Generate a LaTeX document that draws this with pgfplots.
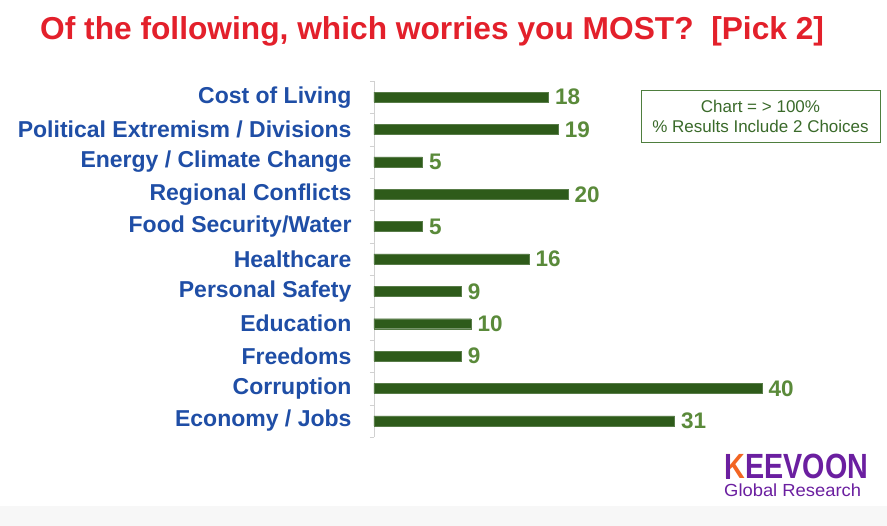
\documentclass[border=0pt]{standalone}
\usepackage{pgfplots}
\pgfplotsset{compat=1.18}
\usepackage{fontspec}
\setmainfont{Liberation Sans}
\definecolor{titlered}{HTML}{E3202B}
\definecolor{catblue}{HTML}{1F4EA6}
\definecolor{bargreen}{HTML}{2E5B1A}
\definecolor{valgreen}{HTML}{5A8A3A}
\definecolor{boxgreen}{HTML}{4E7E3E}
\definecolor{boxtext}{HTML}{3A6A2A}
\definecolor{logopurple}{HTML}{6B1FA0}
\definecolor{logoorange}{HTML}{F26522}
\begin{document}
\begin{tikzpicture}[x=1pt,y=1pt]
\fill[white] (0,0) rectangle (887,526);
\fill[black!3] (0,0) rectangle (887,20);
\node[anchor=base west,text=titlered,font=\bfseries\fontsize{31.7}{31.7}\selectfont,inner sep=0] at (40,486) {Of the following, which worries you MOST?\ \ [Pick 2]};
\begin{axis}[
  at={(374pt,89pt)}, anchor=south west,
  scale only axis, width=485pt, height=356pt,
  xmin=0, xmax=50, ymin=-0.5, ymax=10.5,
  axis line style={draw=none},
  separate axis lines,
  axis y line*=left, axis x line=none,
  y axis line style={draw=black!18},
  ytick={0,...,10},
  minor ytick={-0.5,0.5,...,10.5},
  major tick length=0pt, minor tick length=4pt,
  tick align=outside,
  minor tick style={draw=black!18},
  yticklabels={Economy / Jobs, Corruption, Freedoms, Education, Personal Safety, Healthcare, Food Security/Water, Regional Conflicts, Energy / Climate Change, Political Extremism / Divisions, Cost of Living},
  yticklabel style={text=catblue,font=\bfseries\fontsize{23}{23}\selectfont,xshift=-19pt,anchor=east},
  /pgf/number format/assume math mode=true,
  xbar, bar width=10pt,
  nodes near coords,
  every node near coord/.append style={text=valgreen,font=\bfseries\fontsize{22.5}{22.5}\selectfont,xshift=3pt},
  clip=false,
]
\addplot[fill=bargreen,draw=bargreen!80!white,bar shift=0pt] coordinates {
(31,0) (40,1) (9,2) (10,3) (9,4) (16,5) (5,6) (20,7) (5,8) (19,9) (18,10)};
\end{axis}
\draw[boxgreen,line width=0.8pt] (641,384) rectangle (880,436);
\node[text=boxtext,font=\fontsize{17}{17}\selectfont,align=center] at (760.5,410) {Chart = > 100\%\\[3pt]\% Results Include 2 Choices};
% logo
\node[anchor=base west,inner sep=0,text=logoorange,font=\fontsize{35}{35}\selectfont\bfseries] (k) at (724,47) {\scalebox{0.82}[1]{K}};
\fill[logopurple] (726.1,47) rectangle (730.4,72.1);
\node[anchor=base west,inner sep=0,text=logopurple,font=\fontsize{35}{35}\selectfont\bfseries] at (k.base east) {\scalebox{0.82}[1]{EEVOON}};
\node[anchor=base west,inner sep=0,text=logopurple,font=\fontsize{17.5}{17.5}\selectfont] at (724,29) {\scalebox{1.05}[1]{Global Research}};
\end{tikzpicture}
\end{document}
